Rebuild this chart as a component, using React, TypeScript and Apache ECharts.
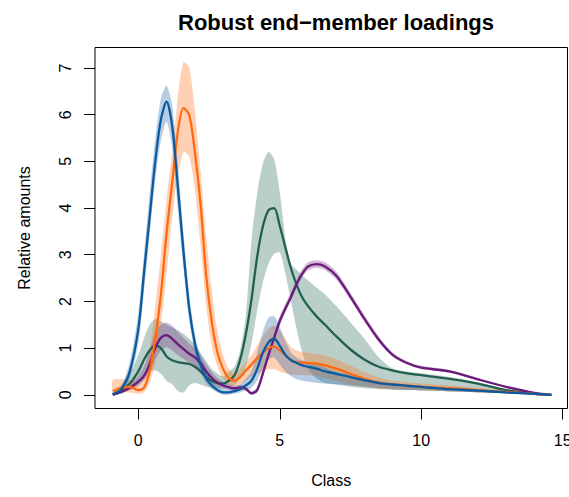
import React, { useEffect, useRef } from "react";
import * as echarts from "echarts";

const TITLE = "Robust end\u2212member loadings";
const X_NAME = "Class";
const Y_NAME = "Relative amounts";
const X_TICKS = [0, 5, 10, 15];
const Y_TICKS = [0, 1, 2, 3, 4, 5, 6, 7];

const classes = [-0.9, -0.6, -0.3, 0, 0.2, 0.4, 0.6, 0.8, 1.0, 1.2, 1.4, 1.6, 1.8, 2.0, 2.2, 2.4, 2.6, 2.8, 3.0, 3.2, 3.4, 3.6, 3.8, 4.0, 4.2, 4.4, 4.6, 4.8, 5.0, 5.2, 5.4, 5.6, 5.8, 6.0, 6.3, 6.6, 7.0, 7.5, 8.0, 8.5, 9.0, 9.5, 10, 11, 12, 13, 14, 14.6];

// EM blue
const blueMean = [0, 0.12, 0.5, 1.4, 2.6, 3.8, 5.0, 5.9, 6.28, 5.75, 4.45, 3.05, 1.85, 1.1, 0.65, 0.35, 0.2, 0.1, 0.05, 0.05, 0.08, 0.12, 0.2, 0.3, 0.55, 0.9, 1.12, 1.2, 1.05, 0.85, 0.74, 0.68, 0.63, 0.6, 0.56, 0.5, 0.45, 0.38, 0.31, 0.25, 0.22, 0.19, 0.17, 0.12, 0.09, 0.05, 0.02, 0];
const blueLo = [0, 0.05, 0.35, 1.1, 2.2, 3.4, 4.6, 5.45, 5.85, 5.3, 3.95, 2.7, 1.6, 0.9, 0.5, 0.25, 0.12, 0.05, 0, 0, 0.02, 0.05, 0.1, 0.15, 0.3, 0.55, 0.75, 0.8, 0.65, 0.5, 0.4, 0.33, 0.3, 0.28, 0.26, 0.24, 0.22, 0.2, 0.17, 0.14, 0.12, 0.1, 0.09, 0.07, 0.05, 0.03, 0.01, 0];
const blueHi = [0.05, 0.2, 0.7, 1.75, 3.0, 4.3, 5.5, 6.35, 6.62, 6.2, 4.9, 3.45, 2.15, 1.3, 0.8, 0.5, 0.3, 0.18, 0.12, 0.12, 0.16, 0.22, 0.35, 0.5, 0.9, 1.35, 1.65, 1.68, 1.45, 1.15, 0.9, 0.8, 0.74, 0.7, 0.65, 0.58, 0.5, 0.43, 0.35, 0.29, 0.25, 0.22, 0.19, 0.14, 0.1, 0.06, 0.03, 0];

// EM orange
const orangeMean = [0.08, 0.15, 0.17, 0.1, 0.15, 0.5, 1.2, 2.15, 3.47, 4.55, 5.65, 6.14, 6.0, 5.2, 4.1, 2.55, 1.55, 0.9, 0.55, 0.36, 0.3, 0.38, 0.52, 0.65, 0.78, 0.9, 1.0, 1.03, 0.95, 0.85, 0.74, 0.7, 0.69, 0.68, 0.67, 0.63, 0.56, 0.45, 0.34, 0.26, 0.22, 0.2, 0.17, 0.14, 0.1, 0.06, 0.02, 0];
const orangeLo = [0, 0.05, 0.05, 0.02, 0.05, 0.25, 0.7, 1.5, 2.6, 3.8, 4.7, 5.2, 5.1, 4.4, 3.2, 1.9, 1.05, 0.6, 0.35, 0.22, 0.18, 0.22, 0.3, 0.38, 0.45, 0.5, 0.55, 0.55, 0.5, 0.46, 0.43, 0.43, 0.42, 0.42, 0.4, 0.36, 0.3, 0.22, 0.17, 0.13, 0.11, 0.1, 0.09, 0.07, 0.05, 0.03, 0.01, 0];
const orangeHi = [0.32, 0.33, 0.3, 0.22, 0.35, 0.95, 1.9, 3.0, 4.2, 5.2, 6.4, 7.13, 7.0, 6.1, 4.8, 3.4, 2.2, 1.35, 0.85, 0.55, 0.45, 0.55, 0.7, 0.85, 1.05, 1.25, 1.42, 1.48, 1.38, 1.2, 1.02, 0.95, 0.92, 0.9, 0.88, 0.84, 0.76, 0.62, 0.48, 0.37, 0.3, 0.27, 0.24, 0.2, 0.15, 0.09, 0.03, 0];

// EM green
const greenMean = [0, 0.1, 0.24, 0.5, 0.75, 0.95, 1.06, 1.0, 0.82, 0.74, 0.7, 0.68, 0.66, 0.6, 0.5, 0.38, 0.3, 0.25, 0.24, 0.3, 0.42, 0.75, 1.3, 2.04, 2.95, 3.6, 3.95, 4.0, 3.62, 3.15, 2.7, 2.35, 2.08, 1.9, 1.68, 1.5, 1.25, 0.97, 0.75, 0.6, 0.52, 0.46, 0.42, 0.34, 0.24, 0.1, 0.02, 0];
const greenLo = [0, 0.03, 0.1, 0.2, 0.35, 0.5, 0.52, 0.45, 0.3, 0.22, 0.08, 0.05, 0.2, 0.25, 0.22, 0.18, 0.15, 0.13, 0.12, 0.15, 0.2, 0.35, 0.6, 1.1, 1.8, 2.4, 2.8, 3.02, 3.05, 2.6, 2.0, 1.39, 0.9, 0.55, 0.35, 0.25, 0.22, 0.17, 0.14, 0.12, 0.11, 0.1, 0.09, 0.07, 0.05, 0.03, 0.01, 0];
const greenHi = [0.05, 0.2, 0.45, 0.85, 1.2, 1.5, 1.62, 1.57, 1.5, 1.44, 1.38, 1.3, 1.2, 1.08, 0.9, 0.72, 0.55, 0.45, 0.4, 0.5, 0.6, 0.95, 1.7, 3.3, 4.3, 4.95, 5.2, 5.05, 4.35, 3.35, 2.8, 2.68, 2.55, 2.45, 2.3, 2.15, 1.9, 1.55, 1.2, 0.8, 0.56, 0.5, 0.46, 0.38, 0.27, 0.12, 0.03, 0];

// EM purple
const purpleMean = [0, 0.06, 0.15, 0.28, 0.4, 0.65, 1.0, 1.22, 1.28, 1.2, 1.08, 0.98, 0.88, 0.8, 0.68, 0.5, 0.36, 0.26, 0.2, 0.16, 0.14, 0.16, 0.13, 0.03, 0.1, 0.45, 0.85, 1.22, 1.58, 1.85, 2.1, 2.38, 2.6, 2.75, 2.8, 2.75, 2.55, 2.1, 1.62, 1.18, 0.85, 0.68, 0.58, 0.5, 0.33, 0.17, 0.04, 0];
const purpleLo = [0, 0.03, 0.1, 0.2, 0.3, 0.45, 0.75, 0.95, 1.02, 0.95, 0.85, 0.77, 0.68, 0.6, 0.5, 0.36, 0.25, 0.18, 0.14, 0.1, 0.08, 0.1, 0.08, 0, 0.04, 0.38, 0.76, 1.14, 1.48, 1.76, 2.02, 2.3, 2.52, 2.66, 2.72, 2.67, 2.47, 2.03, 1.56, 1.13, 0.81, 0.65, 0.55, 0.47, 0.31, 0.15, 0.03, 0];
const purpleHi = [0.03, 0.1, 0.22, 0.4, 0.6, 0.95, 1.35, 1.5, 1.55, 1.48, 1.35, 1.22, 1.1, 1.0, 0.86, 0.66, 0.48, 0.36, 0.28, 0.22, 0.2, 0.22, 0.19, 0.08, 0.16, 0.55, 0.95, 1.32, 1.68, 1.95, 2.2, 2.47, 2.7, 2.84, 2.88, 2.84, 2.64, 2.18, 1.7, 1.25, 0.9, 0.72, 0.62, 0.53, 0.36, 0.19, 0.05, 0];

const members = [
  { name: "EM green", line: "#21604f", band: "rgba(45,110,95,0.33)", mean: greenMean, lo: greenLo, hi: greenHi },
  { name: "EM purple", line: "#6b1a7b", band: "rgba(110,30,125,0.30)", mean: purpleMean, lo: purpleLo, hi: purpleHi },
  { name: "EM orange", line: "#ff6a10", band: "rgba(255,120,40,0.35)", mean: orangeMean, lo: orangeLo, hi: orangeHi },
  { name: "EM blue", line: "#0a5aa0", band: "rgba(30,100,170,0.32)", mean: blueMean, lo: blueLo, hi: blueHi },
];

const FONT = "'Liberation Sans', Arial, Helvetica, sans-serif";

export default function App() {
  const ref = useRef<HTMLDivElement>(null);
  useEffect(() => {
    if (!ref.current) return;
    const chart = echarts.init(ref.current, null, { renderer: "svg" });

    const bandSeries = members.map((m) => ({
      type: "custom",
      name: m.name + " band",
      coordinateSystem: "cartesian2d",
      data: [[classes[0], m.lo[0]]],
      encode: { x: 0, y: 1 },
      clip: true,
      z: 1,
      renderItem: (_params: any, api: any) => {
        const pts: number[][] = [];
        for (let i = 0; i < classes.length; i++) pts.push(api.coord([classes[i], m.hi[i]]));
        for (let i = classes.length - 1; i >= 0; i--) pts.push(api.coord([classes[i], m.lo[i]]));
        return {
          type: "polygon",
          shape: { points: pts, smooth: 0.25 },
          style: { fill: m.band, stroke: "none" },
        };
      },
    }));

    const lineSeries = members.map((m) => ({
      type: "line",
      name: m.name,
      data: classes.map((x, i) => [x, m.mean[i]]),
      smooth: 0.3,
      symbol: "none",
      z: 3,
      lineStyle: { color: m.line, width: 2.3 },
    }));

    chart.setOption({
      animation: false,
      backgroundColor: "#ffffff",
      title: {
        text: TITLE,
        left: 331,
        top: 6,
        textAlign: "center",
        textStyle: { fontFamily: FONT, fontSize: 22, fontWeight: "bold", color: "#000" },
      },
      grid: {
        left: 95,
        right: 1.5,
        top: 47.5,
        bottom: 88.5,
        show: true,
        borderColor: "#000",
        borderWidth: 1,
        backgroundColor: "transparent",
        containLabel: false,
        outerBoundsMode: "none",
      },
      xAxis: {
        type: "value",
        min: -1.53,
        max: 15.17,
        name: X_NAME,
        nameLocation: "middle",
        nameGap: 64,
        nameTextStyle: { fontFamily: FONT, fontSize: 16, color: "#000" },
        axisLine: { show: false, onZero: false },
        splitLine: { show: false },
        axisTick: { show: true, length: 11, customValues: X_TICKS, lineStyle: { color: "#000", width: 1 } },
        axisLabel: { customValues: X_TICKS, margin: 24, hideOverlap: false, fontFamily: FONT, fontSize: 16, color: "#000" },
      },
      yAxis: {
        type: "value",
        min: -0.294,
        max: 7.44,
        name: Y_NAME,
        nameLocation: "middle",
        nameGap: 63,
        nameRotate: 90,
        nameTextStyle: { fontFamily: FONT, fontSize: 16, color: "#000" },
        axisLine: { show: false, onZero: false },
        splitLine: { show: false },
        axisTick: { show: true, length: 11, customValues: Y_TICKS, lineStyle: { color: "#000", width: 1 } },
        axisLabel: { customValues: Y_TICKS, rotate: 90, margin: 22, fontFamily: FONT, fontSize: 16, color: "#000" },
      },
      series: [...bandSeries, ...lineSeries],
    });
    return () => chart.dispose();
  }, []);
  return (
    <div
      ref={ref}
      style={{ position: "fixed", left: 0, top: 0, width: 569, height: 497, background: "#fff" }}
    />
  );
}
